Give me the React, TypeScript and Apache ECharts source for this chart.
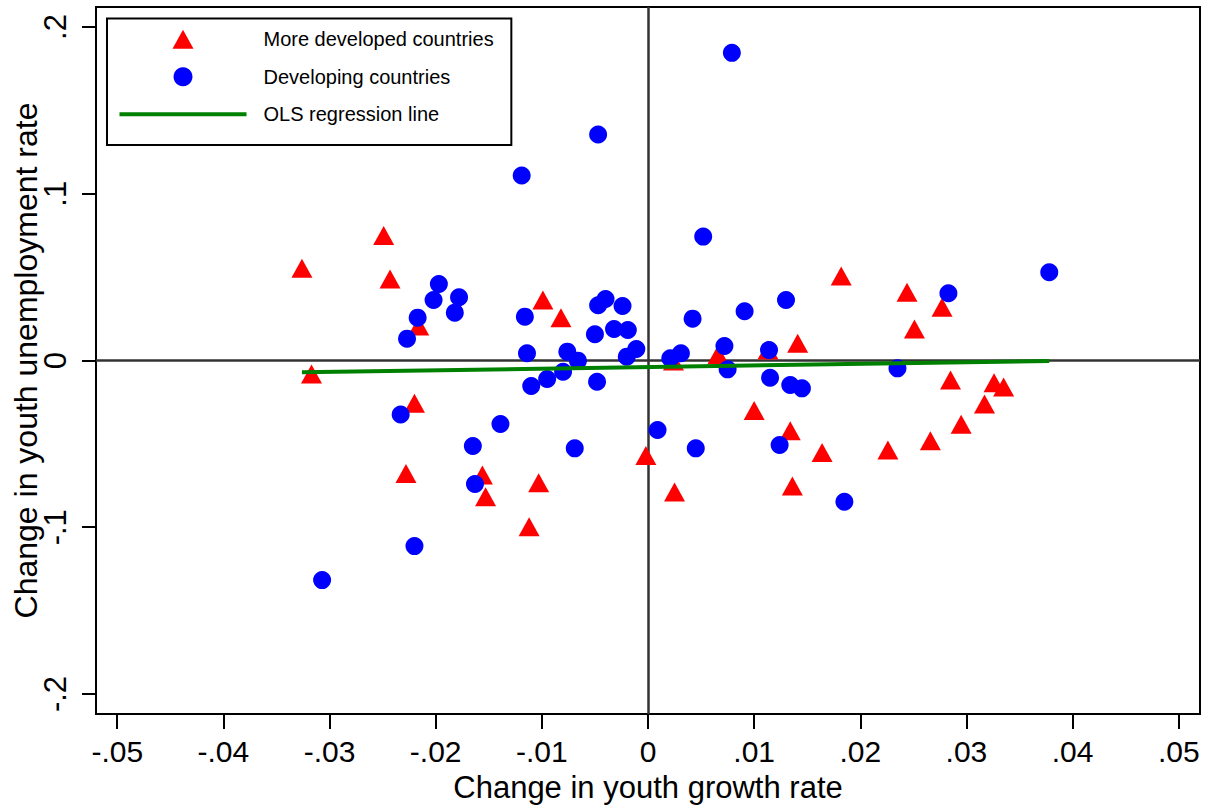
import React, { useEffect, useRef } from "react";
import * as echarts from "echarts";

const FONT = "'Liberation Sans', Arial, Helvetica, sans-serif";

const xTicks = [-0.05, -0.04, -0.03, -0.02, -0.01, 0, 0.01, 0.02, 0.03, 0.04, 0.05];
const xTickLabels = ["-.05", "-.04", "-.03", "-.02", "-.01", "0", ".01", ".02", ".03", ".04", ".05"];
const yTicks = [-0.2, -0.1, 0, 0.1, 0.2];
const yTickLabels = ["-.2", "-.1", "0", ".1", ".2"];

const seriesNames = ["More developed countries", "Developing countries", "OLS regression line"];

const developedX = [
  -0.0249, -0.0326, -0.0243, -0.0099, -0.0082, -0.0216, -0.0317, -0.022, -0.0228, -0.0156,
  -0.0153, -0.0103, -0.0002, -0.0112, 0.0182, 0.0244, 0.0277, 0.0251, 0.0141, 0.0113,
  0.0066, 0.0024, 0.0285, 0.0326, 0.0335, 0.0317, 0.01, 0.0295, 0.0134, 0.0266,
  0.0164, 0.0226, 0.0025, 0.0136,
];
const developedY = [
  0.075, 0.0553, 0.0489, 0.0363, 0.0257, 0.0207, -0.0081, -0.0257, -0.0677, -0.0687,
  -0.0817, -0.0733, -0.057, -0.0997, 0.0507, 0.0409, 0.0319, 0.0189, 0.0103, 0.0063,
  0.0036, -0.0003, -0.0117, -0.0133, -0.0159, -0.0261, -0.03, -0.0382, -0.0422, -0.0481,
  -0.0551, -0.0537, -0.0788, -0.0753,
];

const developingX = [
  -0.0197, -0.0202, -0.0178, -0.0182, -0.0217, -0.0227, -0.0116, -0.0114, -0.0047, -0.004,
  -0.0024, -0.005, -0.0032, -0.0019, -0.0011, -0.002, -0.0076, -0.0066, -0.008, -0.0095,
  -0.011, -0.0048, -0.0233, -0.0139, -0.0165, -0.0069, -0.0163, 0.0009, -0.022, -0.0307,
  -0.0047, -0.0119, 0.0052, 0.0378, 0.0283, 0.013, 0.0091, 0.0042, 0.0072, 0.0114,
  0.0031, 0.0021, 0.0075, 0.0115, 0.0134, 0.0145, 0.0235, 0.0045, 0.0124, 0.0185,
  0.0079,
];
const developingY = [
  0.0459, 0.0363, 0.0379, 0.0287, 0.0257, 0.0131, 0.0263, 0.0043, 0.0331, 0.0369,
  0.0327, 0.0157, 0.0189, 0.0183, 0.0069, 0.0023, 0.0053, -0.0001, -0.0067, -0.0111,
  -0.0153, -0.0127, -0.0324, -0.0381, -0.0513, -0.0527, -0.0741, -0.0417, -0.1113, -0.1317,
  0.1355, 0.1109, 0.0743, 0.0529, 0.0403, 0.0363, 0.0295, 0.0251, 0.0087, 0.0063,
  0.0043, 0.0013, -0.0053, -0.0103, -0.0147, -0.0167, -0.0047, -0.0527, -0.0507, -0.0847,
  0.1845,
];

const olsX = [-0.0326, 0.0378];
const olsY = [-0.0071, -0.0003];

function labelFor(ticks: number[], labels: string[]) {
  return (v: number) => {
    const i = ticks.findIndex((t) => Math.abs(t - v) < 1e-9);
    return i >= 0 ? labels[i] : "";
  };
}

const TRIANGLE_ICON = "path://M10.5,0L21,19L0,19Z";
const LINE_ICON = "path://M0,0H127V4H0Z";

export default function App() {
  const ref = useRef<HTMLDivElement>(null);

  useEffect(() => {
    if (!ref.current) return;
    const chart = echarts.init(ref.current, undefined, { renderer: "svg" });

    const option: any = {
      animation: false,
      backgroundColor: "#fff",
      textStyle: { fontFamily: FONT },
      grid: {
        left: 96,
        top: 7,
        right: 15,
        bottom: 93,
        show: true,
        borderColor: "#000",
        borderWidth: 2,
        backgroundColor: "#fff",
        containLabel: false,
        outerBoundsMode: "none",
      },
      legend: {
        orient: "vertical",
        left: 107,
        top: 18.5,
        padding: [10.8, 17.7, 20.7, 12.5],
        itemWidth: 127,
        itemHeight: 19,
        itemGap: 17.5,
        symbolKeepAspect: true,
        borderColor: "#000",
        borderWidth: 2,
        backgroundColor: "#fff",
        selectedMode: false,
        lineStyle: { width: 4 },
        textStyle: { fontSize: 20, color: "#000", fontFamily: FONT, padding: [0, 0, 0, 12] },
        data: [
          { name: seriesNames[0], icon: TRIANGLE_ICON },
          { name: seriesNames[1], icon: "circle" },
          { name: seriesNames[2], icon: LINE_ICON },
        ],
      },
      xAxis: {
        type: "value",
        min: -0.052,
        max: 0.052,
        position: "bottom",
        name: "Change in youth growth rate",
        nameLocation: "middle",
        nameGap: 60,
        nameMoveOverlap: false,
        nameTextStyle: { fontSize: 31, lineHeight: 26, color: "#000", fontFamily: FONT },
        axisLine: { show: true, onZero: false, lineStyle: { color: "#000", width: 2 } },
        axisTick: {
          show: true,
          inside: false,
          length: 15,
          customValues: xTicks,
          lineStyle: { color: "#000", width: 2 },
        },
        axisLabel: {
          show: true,
          margin: 24.5,
          lineHeight: 26,
          customValues: xTicks,
          fontSize: 30,
          color: "#000",
          fontFamily: FONT,
          formatter: labelFor(xTicks, xTickLabels),
        },
        splitLine: { show: false },
      },
      yAxis: {
        type: "value",
        min: -0.212,
        max: 0.212,
        position: "left",
        name: "Change in youth unemployment rate",
        nameLocation: "middle",
        nameGap: 54,
        nameMoveOverlap: false,
        nameTextStyle: { fontSize: 32, color: "#000", fontFamily: FONT },
        axisLine: { show: true, onZero: false, lineStyle: { color: "#000", width: 2 } },
        axisTick: {
          show: true,
          inside: false,
          length: 14,
          customValues: yTicks,
          lineStyle: { color: "#000", width: 2 },
        },
        axisLabel: {
          show: true,
          rotate: 90,
          margin: 25,
          customValues: yTicks,
          fontSize: 31,
          color: "#000",
          fontFamily: FONT,
          formatter: labelFor(yTicks, yTickLabels),
        },
        splitLine: { show: false },
      },
      series: [
        {
          name: seriesNames[0],
          type: "scatter",
          symbol: "triangle",
          symbolSize: [21, 19],
          itemStyle: { color: "#ff0000", opacity: 1 },
          z: 2,
          emphasis: { disabled: true },
          data: developedX.map((x, i) => [x, developedY[i]]),
          markLine: {
            silent: true,
            z: 1,
            symbol: ["none", "none"],
            label: { show: false },
            lineStyle: { color: "#333", width: 2.5, type: "solid" },
            emphasis: { disabled: true },
            data: [{ xAxis: 0 }, { yAxis: 0 }],
          },
        },
        {
          name: seriesNames[1],
          type: "scatter",
          symbol: "circle",
          symbolSize: 18,
          itemStyle: { color: "#0000ff", opacity: 1 },
          z: 3,
          emphasis: { disabled: true },
          data: developingX.map((x, i) => [x, developingY[i]]),
        },
        {
          name: seriesNames[2],
          type: "line",
          symbol: "none",
          showSymbol: false,
          z: 4,
          lineStyle: { color: "#008000", width: 4 },
          itemStyle: { color: "#008000" },
          emphasis: { disabled: true },
          data: olsX.map((x, i) => [x, olsY[i]]),
        },
      ],
    };

    chart.setOption(option);
    return () => {
      chart.dispose();
    };
  }, []);

  return (
    <div
      ref={ref}
      style={{ position: "absolute", left: 0, top: 0, width: 1215, height: 807, background: "#fff" }}
    />
  );
}
